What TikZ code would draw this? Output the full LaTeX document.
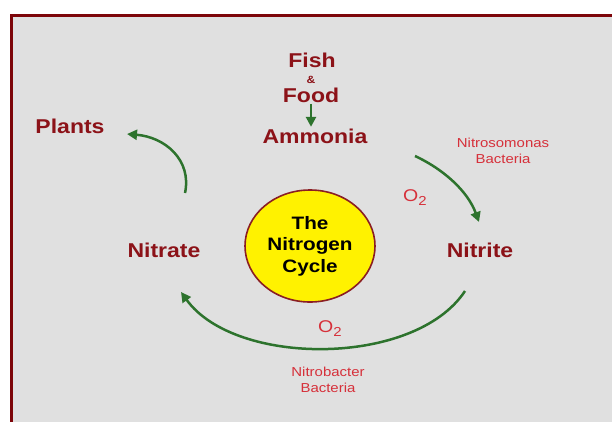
\documentclass[tikz,border=0pt]{standalone}
\usepackage{fontspec}
\setmainfont{Liberation Sans}[FakeStretch=1.15]
\usepackage{xcolor}
\usetikzlibrary{arrows.meta,shapes.geometric}

\definecolor{labelred}{RGB}{140,18,24}
\definecolor{bactred}{RGB}{214,48,58}
\definecolor{cyclegreen}{RGB}{45,115,45}
\definecolor{panelgrey}{RGB}{224,224,224}
\definecolor{framered}{RGB}{125,5,10}

\newcommand{\oxy}{O\raisebox{-4pt}{\fontsize{13}{13}\selectfont 2}}

\begin{document}
\begin{tikzpicture}[
    x=1pt, y=-1pt,
    label/.style={inner sep=1.5pt, text=labelred, font=\fontsize{20}{22}\selectfont\bfseries},
    small/.style={inner sep=1pt, text=labelred, font=\fontsize{10.5}{11}\selectfont\bfseries},
    bacteria/.style={inner sep=1pt, align=center, text=bactred, font=\fontsize{13}{15.5}\selectfont},
    oxygen/.style={inner sep=1pt, text=bactred, font=\fontsize{17}{19}\selectfont},
    core/.style={ellipse, draw=framered!90, line width=1.6pt, fill=yellow, align=center,
        minimum width=130pt, minimum height=112pt, inner sep=0pt,
        font=\fontsize{18}{21.5}\selectfont\bfseries},
    arrow/.style={-{Triangle[length=10pt, width=10pt]}, line width=2.5pt, draw=cyclegreen}
]
\useasboundingbox (0,0) rectangle (612,421);
\fill[white] (0,0) rectangle (612,421);
\begin{scope}
\clip (0,0) rectangle (612,421);
\draw[fill=panelgrey, draw=framered, line width=3pt] (11.5,15.5) rectangle (630,440);
\end{scope}

% labels
\node[label, anchor=base] (fish) at (312,67) {Fish};
\node[small, anchor=base] (amp) at (311,83) {\&};
\node[label, anchor=base] (food) at (311,102) {Food};
\node[label, anchor=base] (ammonia) at (315,143) {Ammonia};
\node[label, anchor=base] (plants) at (70,133) {Plants};
\node[label, anchor=base] (nitrate) at (164,257) {Nitrate};
\node[label, anchor=base] (nitrite) at (480,257) {Nitrite};
\node[core] (cycle) at (310,246) {The\\Nitrogen\\Cycle};
\node[bacteria] (nitrosomonas) at (503,151) {Nitrosomonas\\Bacteria};
\node[bacteria] (nitrobacter) at (328,380) {Nitrobacter\\Bacteria};
\node[oxygen, anchor=base] (otop) at (415,201) {\oxy};
\node[oxygen, anchor=base] (obottom) at (330,332) {\oxy};

% arrow ends
\coordinate (plantsend) at (127,134);
\coordinate (nitratestart) at (185,193);
\coordinate (ammoniastart) at (415,156);
\coordinate (nitriteend) at (479,222);
\coordinate (nitritestart) at (465,291);
\coordinate (nitrateend) at (181,292);

\draw[arrow] (food.south) -- (food.south |- ammonia.north);
\draw[arrow] (ammoniastart) .. controls (445,170) and (468,192) .. (nitriteend);
\draw[arrow] (nitritestart) .. controls (415,367) and (235,367) .. (nitrateend);
\draw[arrow] (nitratestart) .. controls (192,160) and (165,137) .. (plantsend);
\end{tikzpicture}
\end{document}
